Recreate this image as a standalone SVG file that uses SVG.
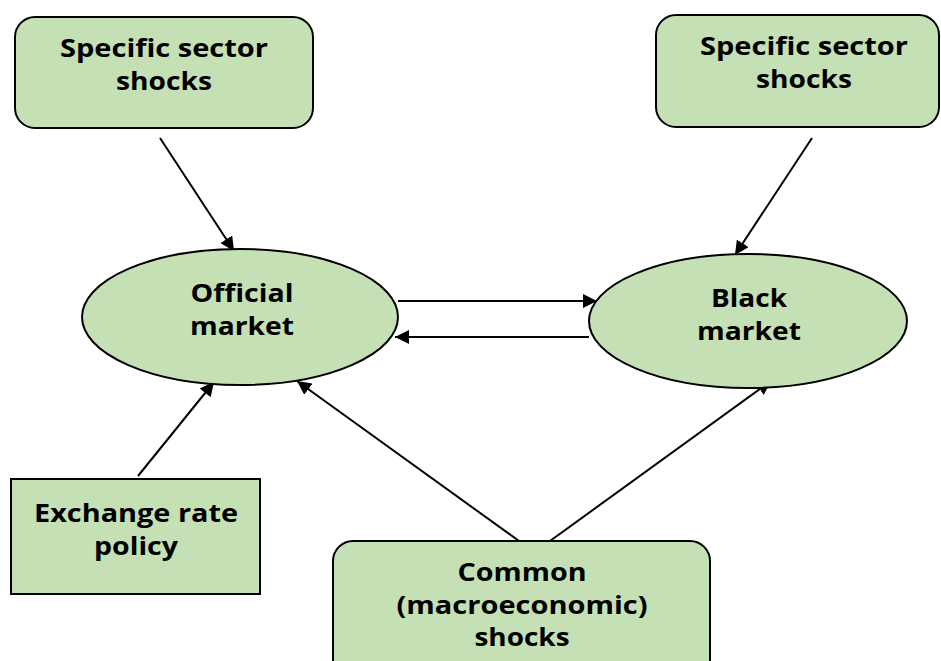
<svg xmlns="http://www.w3.org/2000/svg" width="941" height="661" viewBox="0 0 941 661">
<defs>
<style>
.n{fill:#C5E0B4;stroke:#000;stroke-width:2}
.t{font-family:"Open Sans","Liberation Sans",sans-serif;font-weight:bold;font-size:24.5px;fill:#000;text-anchor:middle}
.c{stroke:#000;stroke-width:2;fill:none;marker-end:url(#ah)}
</style>
<marker id="ah" viewBox="0 0 10 10" refX="10" refY="5" markerWidth="7" markerHeight="7" markerUnits="strokeWidth" orient="auto">
<path d="M0,0 L10,5 L0,10 Z" fill="#000"/>
</marker>
</defs>
<rect width="941" height="661" fill="#fff"/>
<g id="connectors">
<line class="c" x1="160" y1="138" x2="234" y2="251"/>
<line class="c" x1="812" y1="138" x2="735" y2="255"/>
<line class="c" x1="398" y1="301" x2="597" y2="301"/>
<line class="c" x1="589" y1="337" x2="395" y2="337"/>
<line class="c" x1="138" y1="476" x2="214" y2="382"/>
<line class="c" x1="519" y1="541" x2="297" y2="381"/>
<line class="c" x1="550" y1="541" x2="771" y2="381"/>
</g>
<g id="specific-left">
<rect class="n" x="15" y="17" width="298" height="111" rx="20"/>
<text class="t" x="164" y="57" textLength="208" lengthAdjust="spacingAndGlyphs">Specific sector</text>
<text class="t" x="164" y="90" textLength="96" lengthAdjust="spacingAndGlyphs">shocks</text>
</g>
<g id="specific-right">
<rect class="n" x="656" y="15" width="283" height="112" rx="20"/>
<text class="t" x="804" y="55" textLength="208" lengthAdjust="spacingAndGlyphs">Specific sector</text>
<text class="t" x="804" y="88" textLength="96" lengthAdjust="spacingAndGlyphs">shocks</text>
</g>
<g id="official-market">
<ellipse class="n" cx="240" cy="317" rx="158" ry="68"/>
<text class="t" x="242" y="302" textLength="103" lengthAdjust="spacingAndGlyphs">Official</text>
<text class="t" x="242" y="335" textLength="104" lengthAdjust="spacingAndGlyphs">market</text>
</g>
<g id="black-market">
<ellipse class="n" cx="748" cy="321" rx="159" ry="67"/>
<text class="t" x="749" y="307" textLength="76" lengthAdjust="spacingAndGlyphs">Black</text>
<text class="t" x="749" y="340" textLength="104" lengthAdjust="spacingAndGlyphs">market</text>
</g>
<g id="exchange-rate-policy">
<rect class="n" x="11" y="479" width="249" height="115"/>
<text class="t" x="136" y="522" textLength="204" lengthAdjust="spacingAndGlyphs">Exchange rate</text>
<text class="t" x="136" y="555" textLength="84" lengthAdjust="spacingAndGlyphs">policy</text>
</g>
<g id="common-shocks">
<rect class="n" x="333" y="541" width="377" height="140" rx="20"/>
<text class="t" x="522" y="581" textLength="129" lengthAdjust="spacingAndGlyphs">Common</text>
<text class="t" x="522" y="614" textLength="251" lengthAdjust="spacingAndGlyphs">(macroeconomic)</text>
<text class="t" x="522" y="646" textLength="95" lengthAdjust="spacingAndGlyphs">shocks</text>
</g>
</svg>
